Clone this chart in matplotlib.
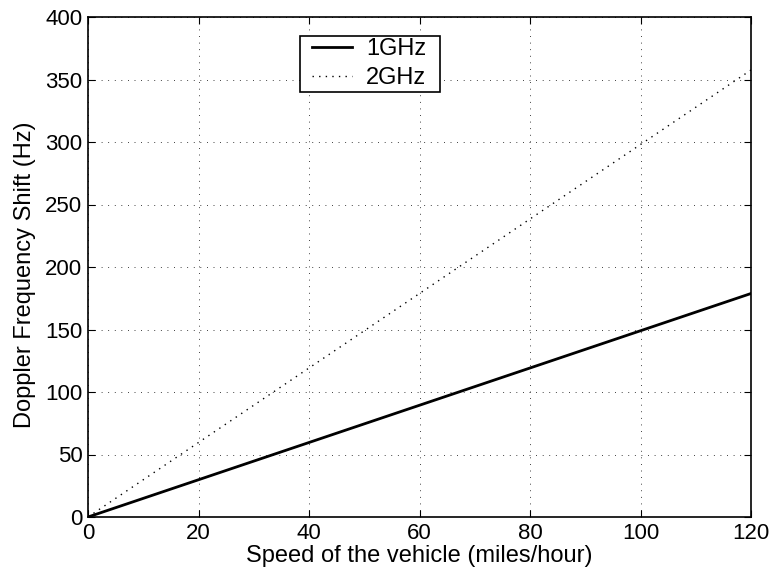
import matplotlib
matplotlib.use('Agg')
import matplotlib.pyplot as plt
from matplotlib.legend_handler import HandlerLine2D

speed_mph = [0, 20, 40, 60, 80, 100, 120]
shift_1ghz = [0, 29.8, 59.6, 89.4, 119.2, 149.0, 178.8]
shift_2ghz = [0, 59.6, 119.2, 178.8, 238.4, 298.0, 357.6]

plt.rcParams['font.family'] = ['Liberation Sans', 'DejaVu Sans']
plt.rcParams['font.size'] = 16

fig = plt.figure(figsize=(7.77, 5.75), dpi=100)
ax = fig.add_axes([88 / 777, 1 - 517 / 575, (751 - 88) / 777, (517 - 17) / 575])

ax.plot(speed_mph, shift_1ghz, color='black', linestyle='-', linewidth=2, label='1GHz')
ax.plot(speed_mph, shift_2ghz, color='black', linestyle=(0, (1, 3.75)), linewidth=1, label='2GHz')

ax.set_xlim(0, 120)
ax.set_ylim(0, 400)
ax.set_xticks(range(0, 121, 20))
ax.set_yticks(range(0, 401, 50))
ax.grid(True, color='black', linestyle=(0, (1, 6.9)), linewidth=0.6)
ax.tick_params(direction='in', length=5, top=True, right=True, pad=4)
for s in ax.spines.values():
    s.set_linewidth(1.2)

ax.set_xlabel('Speed of the vehicle (miles/hour)', fontsize=17, labelpad=1)
ax.set_ylabel('Doppler Frequency Shift (Hz)', fontsize=17)
ax.yaxis.set_label_coords(-0.078, 0.485)

# legend box spans 300..440 px horizontally, top at 36 px
x0 = (300 - 88) / 663
w = 140 / 663
ytop = 1 - (36 - 17) / 500
leg = ax.legend(loc='upper left', bbox_to_anchor=(x0, 0, w, ytop), mode='expand',
                prop={'size': 17}, fancybox=False, edgecolor='black', framealpha=1,
                handlelength=2.1, handletextpad=0.6, borderpad=0.1,
                labelspacing=0.3, borderaxespad=0,
                handler_map={plt.Line2D: HandlerLine2D(xpad=0.4)})
leg.get_frame().set_linewidth(1.2)

fig.savefig('out.png', dpi=100)
